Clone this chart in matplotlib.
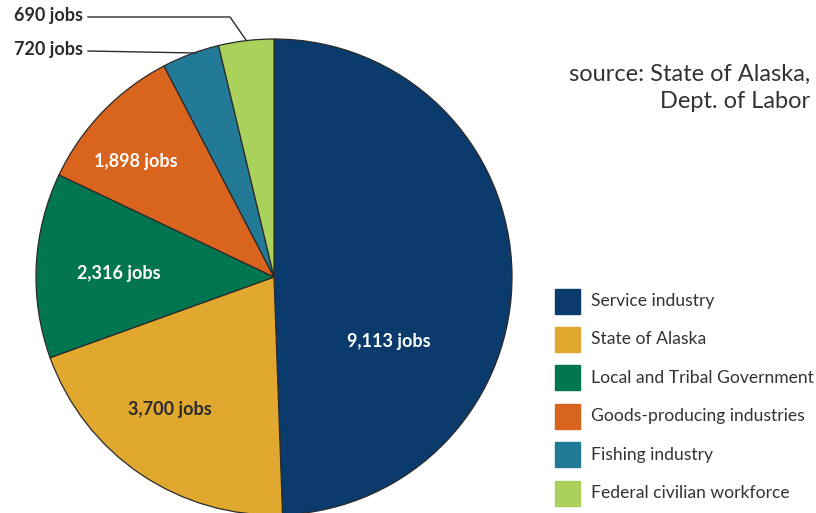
import matplotlib.pyplot as plt
from matplotlib.patches import Rectangle

plt.rcParams['font.family'] = ['Lato', 'DejaVu Sans']

categories = ["Service industry", "State of Alaska", "Local and Tribal Government",
              "Goods-producing industries", "Fishing industry", "Federal civilian workforce"]
jobs = [9113, 3700, 2316, 1898, 720, 690]
colors = ["#0a3b6c", "#e0a82e", "#027650", "#d9641e", "#237a97", "#a9d15b"]
labels = ["9,113 jobs", "3,700 jobs", "2,316 jobs", "1,898 jobs", "720 jobs", "690 jobs"]

W, H = 816, 513
fig = plt.figure(figsize=(W / 100, H / 100), dpi=100)
ax = fig.add_axes([0, 0, 1, 1])

cx, cy, r = 274, H - 277, 238
ax.pie(jobs, colors=colors, startangle=90, counterclock=False, radius=r,
       center=(cx, cy), frame=True,
       wedgeprops=dict(edgecolor="#2a2a2a", linewidth=0.9))
ax.set_xlim(0, W)
ax.set_ylim(0, H)
ax.set_aspect('equal')
ax.axis('off')

# labels inside slices (pixel positions, y from top)
inside = [(389, 341, "white"), (170, 409, "#2b2b2b"), (119, 273, "white"), (136, 162, "white")]
for (x, y, c), lab in zip(inside, labels[:4]):
    ax.text(x, H - y, lab, color=c, fontsize=13, fontweight='bold', ha='center', va='center')

# outside labels with leader lines
ax.text(83, H - 50, labels[4], color="#2b2b2b", fontsize=13, fontweight='bold', ha='right', va='center')
ax.text(83, H - 16, labels[5], color="#2b2b2b", fontsize=13, fontweight='bold', ha='right', va='center')
ax.plot([88, 196], [H - 51, H - 53], color="#2b2b2b", lw=1)
ax.plot([88, 230, 246], [H - 17, H - 17, H - 40], color="#2b2b2b", lw=1)

# source note
ax.text(810, H - 74, "source: State of Alaska,", fontsize=17, color="#333333", ha='right', va='center')
ax.text(810, H - 102, "Dept. of Labor", fontsize=17, color="#333333", ha='right', va='center')

# legend
for i, (cat, col) in enumerate(zip(categories, colors)):
    yc = 301 + i * 38.4
    ax.add_patch(Rectangle((555, H - yc - 12.5), 25, 25, color=col))
    ax.text(591, H - yc, cat, fontsize=12.6, color="#333333", ha='left', va='center')

fig.savefig("out.png", dpi=100)
